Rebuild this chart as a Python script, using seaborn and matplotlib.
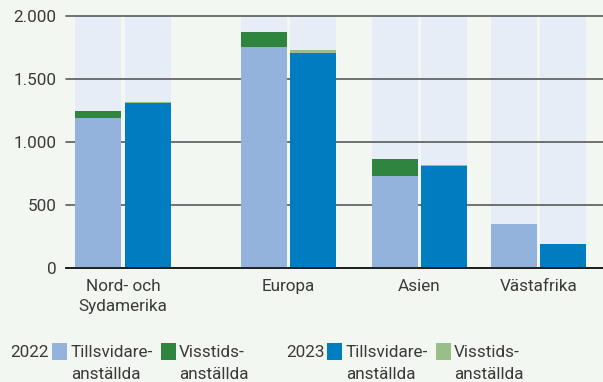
import matplotlib
matplotlib.use("Agg")
import matplotlib.pyplot as plt
from matplotlib.patches import Rectangle
import pandas as pd
import seaborn as sns

# Employees per region, split by type of employment
regions = ["Nord- och\nSydamerika", "Europa", "Asien", "Västafrika"]
years = ["2022", "2023"]
permanent_2022 = [1190, 1755, 730, 347]
temporary_2022 = [55, 120, 135, 0]
permanent_2023 = [1305, 1705, 808, 188]
temporary_2023 = [10, 25, 8, 0]
y_ticks = [0, 500, 1000, 1500, 2000]
y_tick_labels = ["0", "500", "1.000", "1.500", "2.000"]
label_permanent = "Tillsvidare-\nanställda"
label_temporary = "Visstids-\nanställda"

# Layout (x axis runs in pixel-like units across the axes)
W, H = 603, 382
ax_left, ax_right, ax_top, ax_bottom = 66, 603, 16, 267.7
group_centers = [123, 288.5, 419.5, 538.5]
half_step = 24.75
bar_width = 46 / (2 * half_step)

bg_fig = "#f3f7f1"
bg_col = "#e6edf7"
text_col = "#3a3a3a"
fsize = 12.3
perm_colors = {"2022": "#93b3dc", "2023": "#007dc0"}
temp_colors = {"2022": "#2f8540", "2023": "#97bf87"}

perm = {"2022": permanent_2022, "2023": permanent_2023}
temp = {"2022": temporary_2022, "2023": temporary_2023}
rows = []
for i, c in enumerate(group_centers):
    for j, yr in enumerate(years):
        p = perm[yr][i]
        t = temp[yr][i]
        rows.append({"pos": c + (2 * j - 1) * half_step, "year": yr,
                     "permanent": p, "total": p + t, "ceiling": y_ticks[-1]})
df = pd.DataFrame(rows)

sns.set_theme(style="white")
plt.rcParams["font.family"] = ["Roboto", "DejaVu Sans"]
plt.rcParams["font.weight"] = "normal"

fig = plt.figure(figsize=(W / 100, H / 100), dpi=100)
fig.patch.set_facecolor(bg_fig)
ax = fig.add_axes([ax_left / W, 1 - ax_bottom / H,
                   (ax_right - ax_left) / W, (ax_bottom - ax_top) / H])
ax.set_facecolor(bg_fig)

common = dict(x="pos", native_scale=True, width=bar_width, errorbar=None,
              saturation=1, linewidth=0, ax=ax)
sns.barplot(data=df, y="ceiling", color=bg_col, zorder=0.2, **common)
sns.barplot(data=df, y="total", hue="year", palette=temp_colors,
            legend=False, zorder=2, **common)
sns.barplot(data=df, y="permanent", hue="year", palette=perm_colors,
            legend=False, zorder=2.1, **common)

ax.set_xlim(ax_left, ax_right)
ax.set_ylim(0, y_ticks[-1])
ax.set_axisbelow("line")
ax.grid(axis="y", color="#5a5a5a", linewidth=1.2)
ax.grid(axis="x", visible=False)
for gl in ax.get_ygridlines():
    gl.set_clip_on(False)
for s in ["top", "right", "left"]:
    ax.spines[s].set_visible(False)
ax.spines["bottom"].set_color("#1a1a1a")
ax.spines["bottom"].set_linewidth(1.3)
ax.spines["bottom"].set_zorder(3)

ax.set_yticks(y_ticks, y_tick_labels)
ax.set_xticks(group_centers, regions)
ax.tick_params(axis="both", length=0, labelsize=fsize, labelcolor=text_col)
ax.tick_params(axis="y", pad=7)
ax.tick_params(axis="x", pad=8)
ax.set_xlabel("")
ax.set_ylabel("")
for lbl in ax.get_xticklabels():
    lbl.set_linespacing(1.45)

# Legend row at the bottom
def fx(px):
    return px / W

def fy(py):
    return 1 - py / H

text_top = 345
legend_items = [
    (10, "2022", [(52, perm_colors["2022"], 71, label_permanent),
                  (161, temp_colors["2022"], 179, label_temporary)]),
    (286, "2023", [(327, perm_colors["2023"], 346, label_permanent),
                   (436, temp_colors["2023"], 454, label_temporary)]),
]
for yx, ytxt, entries in legend_items:
    fig.text(fx(yx), fy(text_top), ytxt, ha="left", va="top",
             fontsize=fsize, color=text_col)
    for sx, col, tx, txt in entries:
        fig.patches.append(Rectangle((fx(sx), fy(360)), 15 / W, 17 / H,
                                     transform=fig.transFigure,
                                     facecolor=col, edgecolor="none"))
        fig.text(fx(tx), fy(text_top), txt, ha="left", va="top",
                 fontsize=fsize, color=text_col, linespacing=1.6)

fig.savefig("out.png", dpi=100, facecolor=bg_fig)
